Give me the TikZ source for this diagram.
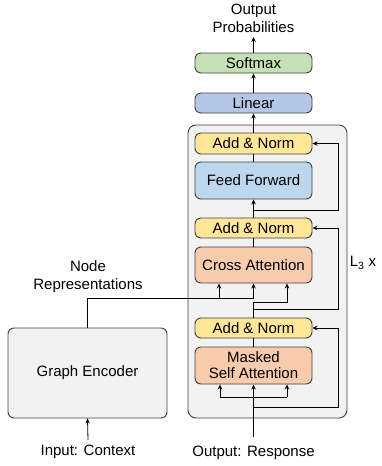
\documentclass[tikz,border=0pt]{standalone}
\usepackage{fontspec}
\setmainfont{Liberation Sans}
\usetikzlibrary{arrows.meta,calc}
\definecolor{boxgray}{HTML}{F2F2F2}
\definecolor{anyellow}{HTML}{FFE699}
\definecolor{ffblue}{HTML}{BDD7EE}
\definecolor{attorange}{HTML}{F8CBAD}
\definecolor{linblue}{HTML}{B4C7E7}
\definecolor{smgreen}{HTML}{C5E0B4}
\definecolor{edge}{HTML}{404040}
\begin{document}
\begin{tikzpicture}[x=1pt,y=-1pt,
  every node/.style={font=\fontsize{15}{17}\selectfont, inner sep=0pt},
  blk/.style={draw=edge, line width=0.9pt, rounded corners=6pt, minimum width=117pt, align=center},
  arr/.style={-{Stealth[length=5pt,width=4.5pt]}, line width=0.8pt, black},
  ln/.style={line width=0.8pt, black}]
\useasboundingbox (0,0) rectangle (381,466);
% outer decoder box
\node[draw=edge, line width=0.9pt, fill=boxgray, rounded corners=8pt, minimum width=159pt, minimum height=293pt] (outer) at (267.5,271.5) {};
% graph encoder
\node[blk, fill=boxgray, minimum width=159pt, minimum height=90pt] (ge) at (87.5,373) {Graph Encoder};
% decoder blocks
\node[blk, fill=anyellow, minimum height=21pt] (an1) at (253.5,143.5) {Add \& Norm};
\node[blk, fill=ffblue, minimum height=37pt] (ff) at (253.5,180.5) {Feed Forward};
\node[blk, fill=anyellow, minimum height=20pt] (an2) at (253.5,228) {Add \& Norm};
\node[blk, fill=attorange, minimum height=36pt] (ca) at (253.5,265) {Cross Attention};
\node[blk, fill=anyellow, minimum height=20pt] (an3) at (253.5,328) {Add \& Norm};
\node[blk, fill=attorange, minimum height=37pt] (msa) at (253.5,365.5) {Masked\\[-1pt]Self Attention};
\node[blk, fill=linblue, minimum height=20pt] (lin) at (253.5,103) {Linear};
\node[blk, fill=smgreen, minimum height=20pt] (sm) at (253.5,63) {Softmax};
% labels
\node[align=center] (outp) at (253.5,18) {Output\\[1pt]Probabilities};
\node[align=center] (noderep) at (88,277) {Node\\[1pt]Representations};
\node (inctx) at (88,452) {Input: Context};
\node (outresp) at (253.5,453) {Output: Response};
\node (lx) at (363,263) {L\textsubscript{3} x};
% coordinates
\coordinate (outtop) at (253.5,37);
\coordinate (ctxbot) at (88,440);
\coordinate (respbot) at (253.5,437);
\coordinate (nrA) at (219,298);
\coordinate (nrB) at (253.5,298);
\coordinate (decB) at (253.5,302);
\coordinate (decC) at (287,302);
\coordinate (res2) at (253.5,309);
\coordinate (res1) at (253.5,210);
\coordinate (res3) at (253.5,407);
\coordinate (mhL) at (220,397);
\coordinate (mhR) at (287,397);
\coordinate (rx) at (338,0);
% connectors top
\draw[arr] (sm.north) -- (outtop);
\draw[arr] (lin.north) -- (sm.south);
\draw[arr] (an1.north) -- (lin.south);
\draw[ln] (ff.north) -- (an1.south);
\draw[arr] (an2.north) -- (ff.south);
\draw[ln] (ca.north) -- (an2.south);
\draw[ln] (msa.north) -- (an3.south);
% residuals
\draw[arr] (res1) -- (res1 -| rx) |- (an1.east);
\draw[arr] (res2) -- (res2 -| rx) |- (an2.east);
\draw[arr] (res3) -- (res3 -| rx) |- (an3.east);
% cross attention inputs
\draw[ln] (ge.north) |- (nrB);
\draw[arr] (nrB) -- (ca.south);
\draw[arr] (nrA) -- (nrA |- ca.south);
\draw[arr] (an3.north) -- (decB) -- (decC) -- (decC |- ca.south);
% masked self attention inputs
\draw[arr] (respbot) -- (msa.south);
\draw[ln] (mhL) -- (mhR);
\draw[arr] (mhL) -- (mhL |- msa.south);
\draw[arr] (mhR) -- (mhR |- msa.south);
% encoder input
\draw[arr] (ctxbot) -- (ge.south);
\end{tikzpicture}
\end{document}
